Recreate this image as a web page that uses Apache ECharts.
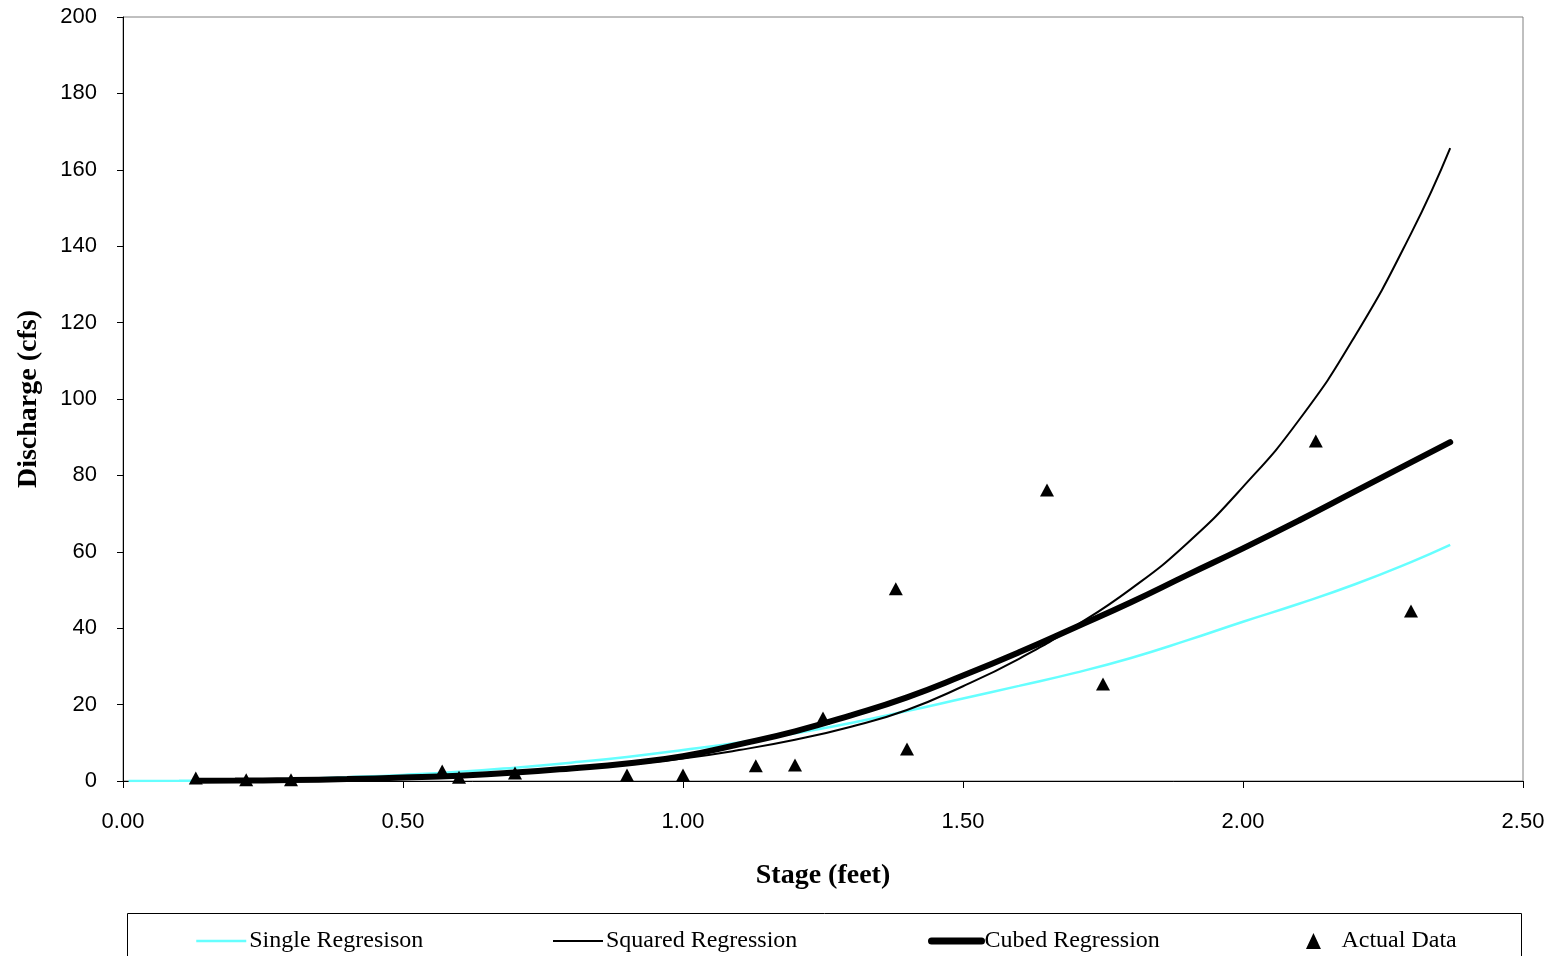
<!DOCTYPE html>
<html>
<head>
<meta charset="utf-8">
<script src="https://cdn.jsdelivr.net/npm/echarts@6/dist/echarts.min.js"></script>
<style>
  html, body { margin: 0; padding: 0; background: #fff; }
  #main { width: 1551px; height: 956px; }
</style>
</head>
<body>
<div id="main"></div>
<script>
var dom = document.getElementById("main");
var myChart = echarts.init(dom);

var stageSingle = [0.01, 0.1, 0.2, 0.3, 0.4, 0.5, 0.6, 0.7, 0.8, 0.9, 1.0, 1.1, 1.2, 1.3, 1.4, 1.5, 1.6, 1.7, 1.8, 1.9, 2.0, 2.1, 2.2, 2.3, 2.37];
var single      = [0.0, 0.04, 0.19, 0.5, 1.0, 1.6, 2.4, 3.5, 4.8, 6.3, 8.1, 10.1, 12.5, 15.2, 18.3, 21.6, 24.9, 28.3, 32.2, 36.8, 41.7, 46.4, 51.5, 57.3, 61.8];

var stageCurve  = [0.13, 0.2, 0.3, 0.4, 0.5, 0.6, 0.7, 0.8, 0.9, 1.0, 1.1, 1.2, 1.3, 1.4, 1.5, 1.6, 1.7, 1.8, 1.9, 2.0, 2.1, 2.2, 2.3, 2.37];
var squared     = [0.03, 0.08, 0.2, 0.45, 0.8, 1.3, 2.0, 3.0, 4.3, 5.9, 8.1, 10.8, 14.2, 18.6, 24.8, 32.0, 40.5, 50.3, 62.2, 77.0, 94.5, 116.5, 143.3, 165.7];
var cubed       = [0.05, 0.1, 0.25, 0.5, 0.9, 1.4, 2.2, 3.3, 4.6, 6.5, 9.6, 13.0, 17.2, 21.9, 27.6, 33.7, 40.2, 46.8, 53.9, 60.9, 68.2, 75.8, 83.4, 88.7];

// actual measurements
var dataStage     = [0.13, 0.22, 0.30, 0.57, 0.60, 0.70, 0.90, 1.00, 1.13, 1.20, 1.25, 1.40, 1.38, 1.65, 1.75, 2.13, 2.30];
var dataDischarge = [0.8,  0.3,  0.3,  2.6,  1.0,  2.1,  1.6,  1.6,  4.0,  4.2,  16.5, 8.4,  50.3, 76.2, 25.4, 89.0, 44.5];

var seriesNames = ['Single Regresison', 'Squared Regression', 'Cubed Regression', 'Actual Data'];

function pairs(xs, ys) {
    var out = [];
    for (var i = 0; i < xs.length; i++) out.push([xs[i], ys[i]]);
    return out;
}

// one legend block per entry, so each sits where the original puts it
var legendLeft = [190, 547, 923, 1301];
var legendItems = [
    { name: seriesNames[0], itemStyle: { opacity: 0 }, lineStyle: { width: 2.5 } },
    { name: seriesNames[1], itemStyle: { opacity: 0 }, lineStyle: { width: 2 } },
    { name: seriesNames[2], itemStyle: { opacity: 0 }, lineStyle: { width: 7, cap: 'round' } },
    { name: seriesNames[3], icon: 'path://M7,0 L14,15 L0,15 Z' }
];
var legends = legendItems.map(function (item, i) {
    return {
        left: legendLeft[i], top: 924,
        itemWidth: 50, itemHeight: 16, symbolKeepAspect: true,
        textStyle: { fontFamily: 'Liberation Serif', fontSize: 24, color: '#000', padding: [0, 0, 0, -2] },
        data: [item]
    };
});

var option = {
    animation: false,
    grid: {
        left: 123, right: 28, top: 17, bottom: 175,
        outerBoundsMode: 'none', containLabel: false,
        show: true, borderColor: '#808080', borderWidth: 1
    },
    xAxis: {
        type: 'value', min: 0, max: 2.5, interval: 0.5,
        name: 'Stage (feet)', nameLocation: 'middle', nameGap: 81,
        nameTextStyle: { fontFamily: 'Liberation Serif', fontWeight: 'bold', fontSize: 28, color: '#000' },
        axisLine: { show: true, lineStyle: { color: '#000', width: 1 } },
        axisTick: { show: true, length: 7, lineStyle: { color: '#000' } },
        axisLabel: {
            margin: 30, fontFamily: 'Liberation Sans', fontSize: 22, color: '#000',
            formatter: function (v) { return v.toFixed(2); }
        },
        splitLine: { show: false }
    },
    yAxis: {
        type: 'value', min: 0, max: 200, interval: 20,
        name: 'Discharge (cfs)', nameLocation: 'middle', nameGap: 80,
        nameTextStyle: { fontFamily: 'Liberation Serif', fontWeight: 'bold', fontSize: 28, color: '#000' },
        axisLine: { show: true, lineStyle: { color: '#000', width: 1 } },
        axisTick: { show: true, length: 6, lineStyle: { color: '#000' } },
        axisLabel: { margin: 26, fontFamily: 'Liberation Sans', fontSize: 22, color: '#000' },
        splitLine: { show: false }
    },
    legend: legends,
    graphic: [{
        type: 'rect', silent: true,
        shape: { x: 127.5, y: 913.5, width: 1394, height: 80 },
        style: { fill: 'none', stroke: '#000', lineWidth: 1 }
    }],
    series: [{
        name: seriesNames[0], type: 'line', smooth: true,
        symbol: 'none', data: pairs(stageSingle, single),
        lineStyle: { color: '#66ffff', width: 2.5 },
        itemStyle: { color: '#66ffff', opacity: 0 }
    }, {
        name: seriesNames[1], type: 'line', smooth: true,
        symbol: 'none', data: pairs(stageCurve, squared),
        lineStyle: { color: '#000', width: 2 },
        itemStyle: { color: '#000', opacity: 0 }
    }, {
        name: seriesNames[2], type: 'line', smooth: true,
        symbol: 'none', data: pairs(stageCurve, cubed),
        lineStyle: { color: '#000', width: 6, cap: 'round' },
        itemStyle: { color: '#000', opacity: 0 }
    }, {
        name: seriesNames[3], type: 'scatter',
        symbol: 'triangle', symbolSize: [14, 13],
        data: pairs(dataStage, dataDischarge),
        itemStyle: { color: '#000', opacity: 1 }, z: 5
    }]
};

myChart.setOption(option, true);
</script>
</body>
</html>
